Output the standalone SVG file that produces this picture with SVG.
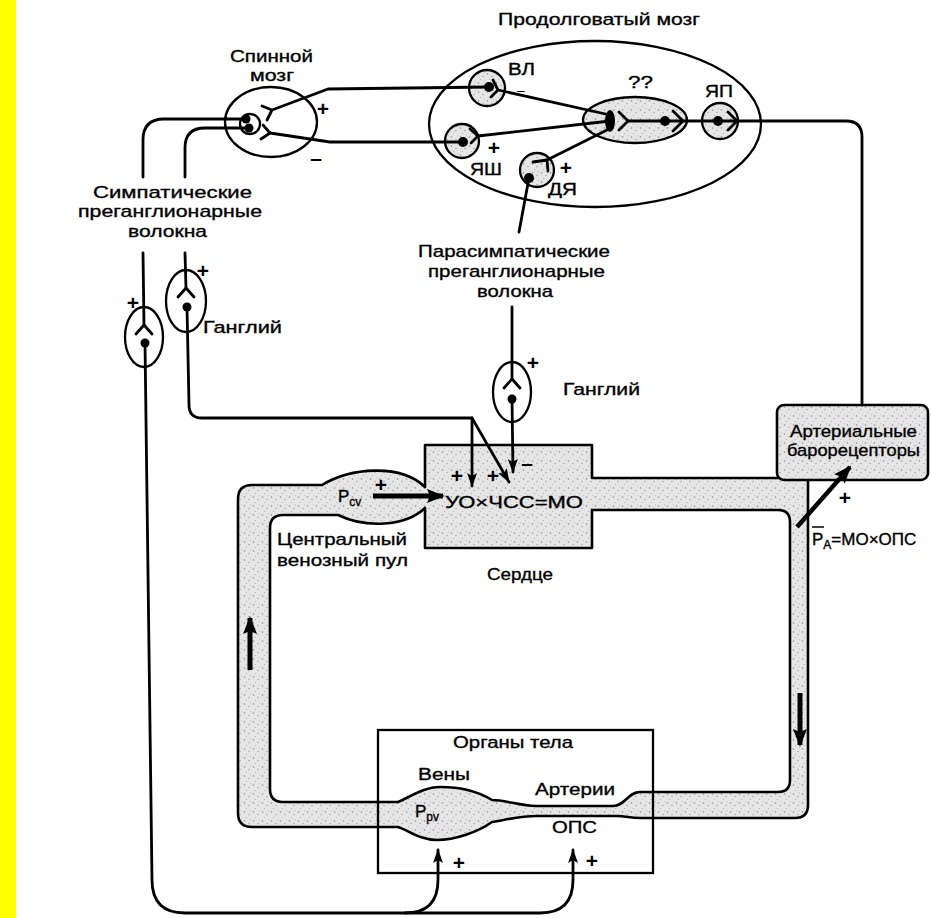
<svg xmlns="http://www.w3.org/2000/svg" width="931" height="918" viewBox="0 0 931 918">
<defs>
<pattern id="st" width="9" height="9" patternUnits="userSpaceOnUse">
<rect width="9" height="9" fill="#e6e6e6"/>
<circle cx="1.5" cy="2" r="0.8" fill="#8a8a8a"/>
<circle cx="6" cy="4.5" r="0.7" fill="#999"/>
<circle cx="3.5" cy="7.5" r="0.6" fill="#aaa"/>
<circle cx="7.5" cy="0.8" r="0.5" fill="#b0b0b0"/>
</pattern>
<marker id="ah" viewBox="0 0 14 10" markerWidth="14" markerHeight="10" refX="13" refY="5" orient="auto" markerUnits="userSpaceOnUse">
<path d="M0,0 L14,5 L0,10 L3,5 Z" fill="#000"/>
</marker>
<marker id="ahb" viewBox="0 0 18 14" markerWidth="18" markerHeight="14" refX="16" refY="7" orient="auto" markerUnits="userSpaceOnUse">
<path d="M0,0 L18,7 L0,14 L3,7 Z" fill="#000"/>
</marker>
<style>
text{font-family:"Liberation Sans",Arial,sans-serif;fill:#000}
.t{font-size:17px;stroke:#000;stroke-width:0.35}
.pm{font-size:21px;font-weight:bold;text-anchor:middle}
.ln{fill:none;stroke:#000;stroke-width:2.8;stroke-linecap:round;stroke-linejoin:round}
.th{fill:none;stroke:#000;stroke-width:2.3}
.sh{fill:url(#st);stroke:#000;stroke-width:2.3}
.dot{fill:#000}
</style>
</defs>
<rect width="931" height="918" fill="#fff"/>
<rect x="0" y="0" width="16" height="918" fill="#ffff00"/>

<g id="circulation">
<path fill-rule="evenodd" fill="url(#st)" stroke="#000" stroke-width="2.6" stroke-linejoin="round" d="M425,445 L592,445 L592,478 L808,478 L808,805 Q808,818 795,818 L640,818 C630,818 626,816 616,816 L536,816 C520,816 505,820 492,822 C478,832 455,840 437,840 C420,840 408,830 398,827 L252,827 Q238,827 238,813 L238,499 Q238,485 252,485 L322,485 C350,468 400,463 425,487 Z M592,510 L778,510 Q790,510 790,522 L790,780 Q790,792 778,792 L640,792 C628,792 625,806 613,806 L536,806 C520,806 506,800 492,800 C476,790 456,787 440,787 C424,787 410,797 398,802 L283,802 Q270,802 270,789 L270,528 Q270,515 283,515 L338,515 C365,528 405,527 425,508 L425,548 L592,548 Z"/>
<line x1="250" y1="670" x2="250" y2="618" stroke="#000" stroke-width="5" marker-end="url(#ahb)"/>
<line x1="800" y1="693" x2="800" y2="745" stroke="#000" stroke-width="5" marker-end="url(#ahb)"/>
</g>

<g id="heart">
<text class="t" x="445" y="508" textLength="138" lengthAdjust="spacingAndGlyphs">УО×ЧСС=МО</text>
<text class="t" x="487" y="580" textLength="66" lengthAdjust="spacingAndGlyphs">Сердце</text>
</g>

<g id="central-venous-pool">
<text class="t" x="338" y="502">P<tspan font-size="12" dy="4">cv</tspan></text>
<text class="t" x="277" y="545" textLength="130" lengthAdjust="spacingAndGlyphs">Центральный</text>
<text class="t" x="277" y="566" textLength="131" lengthAdjust="spacingAndGlyphs">венозный пул</text>
</g>

<g id="organs">
<rect x="378" y="730" width="275" height="143" class="th"/>
<text class="t" x="453" y="748" textLength="120" lengthAdjust="spacingAndGlyphs">Органы тела</text>
<text class="t" x="418" y="780" textLength="52" lengthAdjust="spacingAndGlyphs">Вены</text>
<text class="t" x="535" y="795" textLength="80" lengthAdjust="spacingAndGlyphs">Артерии</text>
<text class="t" x="552" y="833" textLength="45" lengthAdjust="spacingAndGlyphs">ОПС</text>
<text class="t" x="415" y="817">P<tspan font-size="12" dy="4">pv</tspan></text>
</g>

<g id="baroreceptors">
<rect x="777" y="405" width="151" height="75" rx="7" fill="url(#st)" stroke="#000" stroke-width="2.6"/>
<text class="t" x="790" y="437" textLength="127" lengthAdjust="spacingAndGlyphs">Артериальные</text>
<text class="t" x="787" y="456" textLength="133" lengthAdjust="spacingAndGlyphs">барорецепторы</text>
<line x1="812" y1="527" x2="824" y2="527" stroke="#000" stroke-width="1.5"/>
<text class="t" x="812" y="545">P<tspan font-size="12" dy="4">A</tspan><tspan dy="-4">=МО×ОПС</tspan></text>
</g>

<g id="spinal-cord">
<ellipse cx="271" cy="122" rx="46" ry="35" class="th"/>
<circle cx="250" cy="124" r="10" class="th"/>
<circle cx="246" cy="119" r="4.5" class="dot"/>
<circle cx="249" cy="128" r="4.5" class="dot"/>
<path class="ln" d="M262,106 L272,110 L267,120"/>
<path class="ln" d="M263,125 L270,133 L261,139"/>
<text class="t" x="230" y="62" textLength="83" lengthAdjust="spacingAndGlyphs">Спинной</text>
<text class="t" x="250" y="81" textLength="44" lengthAdjust="spacingAndGlyphs">мозг</text>
</g>

<g id="medulla">
<ellipse cx="595" cy="124" rx="166" ry="83" class="th"/>
<text class="t" x="498" y="25" textLength="202" lengthAdjust="spacingAndGlyphs">Продолговатый мозг</text>
</g>

<g id="VL">
<circle cx="487" cy="88" r="18" class="sh"/>
<circle cx="489" cy="87" r="5" class="dot"/>
<path class="ln" d="M493,80 L498,90 L491,97"/>
<text class="t" x="508" y="75" textLength="27" lengthAdjust="spacingAndGlyphs">ВЛ</text>
</g>

<g id="YaSh">
<circle cx="462" cy="141" r="17" class="sh"/>
<circle cx="463" cy="142" r="5" class="dot"/>
<path class="ln" d="M470,129 L478,136 L471,143"/>
<text class="t" x="470" y="175" textLength="32" lengthAdjust="spacingAndGlyphs">ЯШ</text>
</g>

<g id="DYa">
<circle cx="537" cy="170" r="17" class="sh"/>
<circle cx="529" cy="178" r="5" class="dot"/>
<path class="ln" d="M533,162 L547,160 L548,171"/>
<text class="t" x="548" y="195" textLength="29" lengthAdjust="spacingAndGlyphs">ДЯ</text>
</g>

<g id="interneuron">
<ellipse cx="635" cy="120" rx="52" ry="23" class="sh"/>
<ellipse cx="610" cy="121" rx="5" ry="11" class="dot"/>
<path class="ln" d="M619,112 L628,121 L619,130"/>
<circle cx="665" cy="121" r="5" class="dot"/>
<path class="ln" d="M673,111 L683,121 L673,131"/>
<text class="t" x="628" y="88" textLength="25" lengthAdjust="spacingAndGlyphs">??</text>
</g>

<g id="YaP">
<circle cx="720" cy="121" r="18" class="sh"/>
<circle cx="718" cy="121" r="5" class="dot"/>
<path class="ln" d="M728,112 L737,121 L728,130"/>
<text class="t" x="705" y="97" textLength="28" lengthAdjust="spacingAndGlyphs">ЯП</text>
</g>

<g id="symp-labels">
<text class="t" x="93" y="198" textLength="159" lengthAdjust="spacingAndGlyphs">Симпатические</text>
<text class="t" x="78" y="217" textLength="184" lengthAdjust="spacingAndGlyphs">преганглионарные</text>
<text class="t" x="128" y="237" textLength="79" lengthAdjust="spacingAndGlyphs">волокна</text>
</g>

<g id="symp-ganglion-1">
<ellipse cx="144" cy="337" rx="19" ry="30" class="th"/>
<path class="ln" d="M136,334 L144,325 L152,334"/>
<circle cx="145" cy="343" r="4.5" class="dot"/>
</g>

<g id="symp-ganglion-2">
<ellipse cx="186" cy="301" rx="20" ry="31" class="th"/>
<path class="ln" d="M178,297 L186,288 L194,297"/>
<circle cx="187" cy="307" r="4.5" class="dot"/>
<text class="t" x="203" y="333" textLength="79" lengthAdjust="spacingAndGlyphs">Ганглий</text>
</g>

<g id="para-labels">
<text class="t" x="418" y="257" textLength="192" lengthAdjust="spacingAndGlyphs">Парасимпатические</text>
<text class="t" x="428" y="277" textLength="177" lengthAdjust="spacingAndGlyphs">преганглионарные</text>
<text class="t" x="477" y="297" textLength="76" lengthAdjust="spacingAndGlyphs">волокна</text>
</g>

<g id="para-ganglion">
<ellipse cx="512" cy="392" rx="19" ry="30" class="th"/>
<path class="ln" d="M504,388 L512,379 L520,388"/>
<circle cx="512" cy="399" r="4.5" class="dot"/>
<text class="t" x="563" y="395" textLength="77" lengthAdjust="spacingAndGlyphs">Ганглий</text>
</g>

<g id="connectors">
<path class="ln" d="M143,177 L143,140 Q143,119 164,119 L246,119"/>
<path class="ln" d="M185,177 L185,148 Q185,128 205,128 L249,128"/>
<path class="ln" d="M272,110 L328,89 L489,87"/>
<path class="ln" d="M270,133 L330,142 L463,142"/>
<path class="ln" d="M498,90 L610,115"/>
<path class="ln" d="M478,136 L610,121"/>
<path class="ln" d="M547,160 L611,128"/>
<path class="ln" d="M628,121 L846,121 Q862,121 862,137 L862,405"/>
<path class="ln" d="M529,178 L519,232"/>
<path class="ln" d="M143,253 L144,325"/>
<path class="ln" d="M185,253 L186,288"/>
<path class="ln" d="M512,307 L512,379"/>
<path class="ln" d="M145,343 L152,880 Q152,913 185,913 L405,913 Q438,913 438,880 L438,850" marker-end="url(#ah)"/>
<path class="ln" d="M405,913 L540,913 Q573,913 573,880 L573,850" marker-end="url(#ah)"/>
<path class="ln" d="M187,307 L189,405 Q189,418 202,418 L472,418 L472,486" marker-end="url(#ah)"/>
<path class="ln" d="M472,418 L509,482" marker-end="url(#ah)"/>
<path class="ln" d="M512,399 L513,472" marker-end="url(#ah)"/>
<line x1="373" y1="496" x2="443" y2="496" stroke="#000" stroke-width="5" marker-end="url(#ahb)"/>
<line x1="797" y1="527" x2="850" y2="467" stroke="#000" stroke-width="4.5" marker-end="url(#ahb)"/>
</g>

<g id="signs">
<text class="pm" x="323" y="116">+</text>
<text class="pm" x="316" y="165">–</text>
<text class="pm" x="521" y="95" style="font-size:14px;font-weight:normal">–</text>
<text class="pm" x="494" y="155">+</text>
<text class="pm" x="566" y="175">+</text>
<text class="pm" x="133" y="310">+</text>
<text class="pm" x="203" y="278">+</text>
<text class="pm" x="533" y="370">+</text>
<text class="pm" x="457" y="483">+</text>
<text class="pm" x="493" y="483">+</text>
<text class="pm" x="527" y="470">–</text>
<text class="pm" x="381" y="492">+</text>
<text class="pm" x="845" y="505">+</text>
<text class="pm" x="459" y="870">+</text>
<text class="pm" x="592" y="868">+</text>
</g>
</svg>
